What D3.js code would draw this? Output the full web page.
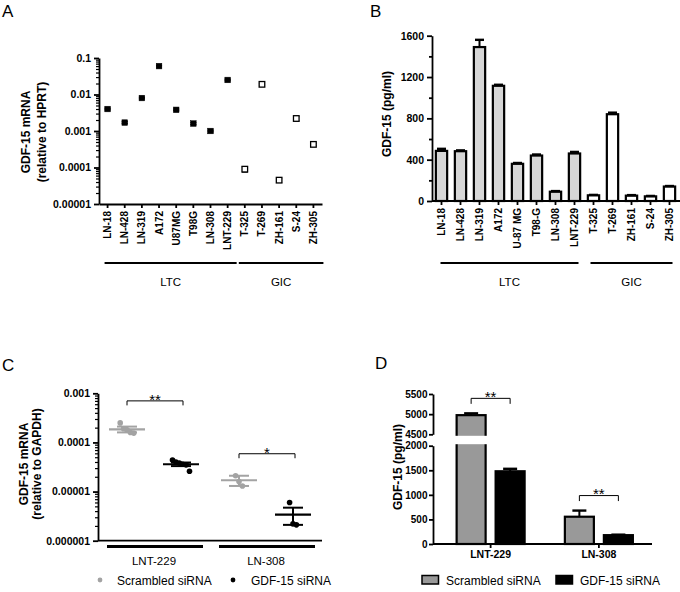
<!DOCTYPE html>
<html><head><meta charset="utf-8">
<script src="https://cdn.jsdelivr.net/npm/d3@7"></script>
<style>
body{margin:0;background:#fff;}
svg{font-family:"Liberation Sans",Arial,sans-serif;}
.axis path,.axis line{stroke:#000;stroke-width:1.8;}
.axis text{font-size:10.5px;font-weight:bold;fill:#000;}
</style></head><body>
<svg id="c" width="680" height="592"></svg>
<script>
// ---------- Panel A data ----------
const aCategories = ["LN-18","LN-428","LN-319","A172","U87MG","T98G","LN-308","LNT-229","T-325","T-269","ZH-161","S-24","ZH-305"];
const aGroupOf = ["LTC","LTC","LTC","LTC","LTC","LTC","LTC","LTC","GIC","GIC","GIC","GIC","GIC"];
const aValues = [0.0040,0.0017,0.0080,0.060,0.0038,0.0016,0.0010,0.025,0.00009,0.019,0.000045,0.0022,0.00043];
const aErrors = [0.0002,0.0001,0.0004,0.003,0.0002,0.0001,0.00005,0.0012,0.000015,0.001,0.000006,0.0003,0.00003];
const aTickValues = [0.1,0.01,0.001,0.0001,0.00001];
const aTickLabels = ["0.1","0.01","0.001","0.0001","0.00001"];

// ---------- Panel B data ----------
const bCategories = ["LN-18","LN-428","LN-319","A172","U-87 MG","T98-G","LN-308","LNT-229","T-325","T-269","ZH-161","S-24","ZH-305"];
const bGroupOf = ["LTC","LTC","LTC","LTC","LTC","LTC","LTC","LTC","GIC","GIC","GIC","GIC","GIC"];
const bValues = [485,482,1490,1115,360,440,90,460,55,840,52,45,140];
const bErrors = [20,8,70,10,8,10,6,15,4,15,5,4,5];
const bTickValues = [0,400,800,1200,1600];

// ---------- Panel C data ----------
const cCellLines = ["LNT-229","LN-308"];
const cSeries = ["Scrambled siRNA","GDF-15 siRNA"];
const cScrambledPoints = [[0.00025,0.00019,0.00018,0.00016,0.000155],[0.000021,0.000016,0.000013]];
const cGdfPoints = [[0.000044,0.00004,0.000038,0.000036,0.000035,0.000026],[0.000006,0.0000022,0.0000021]];
const cScrambledMean = [0.000185,0.000017];
const cScrambledSem = [0.000025,0.000004];
const cGdfMean = [0.000036,0.0000034];
const cGdfSem = [0.000003,0.0000013];
const cSignificance = ["**","*"];
const cTickValues = [0.001,0.0001,0.00001,0.000001];
const cTickLabels = ["0.001","0.0001","0.00001","0.000001"];

// ---------- Panel D data ----------
const dCellLines = ["LNT-229","LN-308"];
const dScrambled = [4975,555];
const dScrambledErr = [45,125];
const dGdf = [1480,180];
const dGdfErr = [50,10];
const dSignificance = ["**","**"];
const dLowTicks = [0,500,1000,1500,2000];
const dHighTicks = [4500,5000,5500];

const svg = d3.select("#c");
const GRAY_C = "#a3a3a3", GRAY_D = "#999999", GRAY_B = "#d6d6d6";
const fmtInt = d3.format("d");

function panelLetter(t,x,y){svg.append("text").attr("x",x).attr("y",y).attr("font-size",17).text(t);}
function vTitle(lines,xs,cy){
  lines.forEach((t,i)=>{
    svg.append("text").attr("transform",`translate(${xs[i]},${cy}) rotate(-90)`)
      .attr("text-anchor","middle").attr("font-size",12).attr("font-weight","bold").text(t);
  });
}
function rotateLabels(g){
  g.selectAll(".tick text").attr("transform","rotate(-90)").attr("text-anchor","end")
    .attr("x",-7).attr("y",0).attr("dy","0.35em").style("font-size","10px");
}
function groupLines(x, groups, cats, y, specs){
  specs.forEach(s=>{
    const idx = cats.map((c,i)=>i).filter(i=>groups[i]===s.name);
    const x0 = x(cats[idx[0]]) + s.o0, x1 = x(cats[idx[idx.length-1]]) + s.o1;
    svg.append("line").attr("x1",x0).attr("x2",x1).attr("y1",y).attr("y2",y).attr("stroke","#000").attr("stroke-width",1.8);
    svg.append("text").attr("x",(x0+x1)/2).attr("y",y+23).attr("text-anchor","middle").attr("font-size",11.5).text(s.name);
  });
}

// ================= Panel A =================
panelLetter("A",2,17);
const xA = d3.scaleBand().domain(aCategories).range([99,322]);
const yA = d3.scaleLog().domain([0.00001,0.1]).range([204,58]);
{
  svg.append("g").attr("class","axis").attr("transform","translate(99,0)")
    .call(d3.axisLeft(yA).tickValues(aTickValues).tickFormat((d,i)=>aTickLabels[i]).tickSize(5).tickSizeOuter(0));
  const minor = yA.ticks().filter(v=>!aTickValues.some(t=>Math.abs(t-v)/t<1e-6));
  const gm = svg.append("g").attr("class","axis").attr("transform","translate(99,0)")
    .call(d3.axisLeft(yA).tickValues(minor).tickFormat("").tickSize(3));
  gm.select(".domain").remove();
  gm.selectAll("line").style("stroke-width",1.2);
  const gx = svg.append("g").attr("class","axis").attr("transform","translate(0,204)")
    .call(d3.axisBottom(xA).tickSize(4).tickSizeOuter(0));
  rotateLabels(gx);
  const cx = c=>xA(c)+xA.bandwidth()/2;
  const pts = svg.append("g");
  aCategories.forEach((c,i)=>{
    const x = cx(c), yt = yA(aValues[i]+aErrors[i]), yb = yA(Math.max(aValues[i]-aErrors[i],1e-7));
    pts.append("line").attr("x1",x).attr("x2",x).attr("y1",yt).attr("y2",yb).attr("stroke","#000").attr("stroke-width",1.2);
    [yt,yb].forEach(yy=>pts.append("line").attr("x1",x-3).attr("x2",x+3).attr("y1",yy).attr("y2",yy).attr("stroke","#000").attr("stroke-width",1.2));
    const open = aGroupOf[i]==="GIC";
    pts.append("rect").attr("x",x-2.8).attr("y",yA(aValues[i])-2.8).attr("width",5.6).attr("height",5.6)
      .attr("fill",open?"#fff":"#000").attr("stroke","#000").attr("stroke-width",open?1.3:0.5);
  });
  groupLines(cx,aGroupOf,aCategories,263,[{name:"LTC",o0:-3,o1:9},{name:"GIC",o0:-6,o1:10}]);
  vTitle(["GDF-15 mRNA","(relative to HPRT)"],[30,46],132);
}

// ================= Panel B =================
panelLetter("B",370,17);
const xB = d3.scaleBand().domain(bCategories).range([432,679]).paddingInner(0.3).paddingOuter(0.15);
const yB = d3.scaleLinear().domain([0,1600]).range([201,35.7]);
{
  const bars = svg.append("g");
  bCategories.forEach((c,i)=>{
    const x = xB(c), w = xB.bandwidth(), cxm = x+w/2;
    bars.append("rect").attr("x",x+1).attr("y",yB(bValues[i])).attr("width",w-2).attr("height",yB(0)-yB(bValues[i]))
      .attr("fill",bGroupOf[i]==="LTC"?GRAY_B:"#fff").attr("stroke","#000").attr("stroke-width",2.2);
    const ye = yB(bValues[i]+bErrors[i]);
    bars.append("line").attr("x1",cxm).attr("x2",cxm).attr("y1",yB(bValues[i])).attr("y2",ye).attr("stroke","#000").attr("stroke-width",2);
    bars.append("line").attr("x1",cxm-4.5).attr("x2",cxm+4.5).attr("y1",ye).attr("y2",ye).attr("stroke","#000").attr("stroke-width",2.4);
  });
  svg.append("g").attr("class","axis").attr("transform","translate(432,0)")
    .call(d3.axisLeft(yB).tickValues(bTickValues).tickFormat(fmtInt).tickSize(5).tickSizeOuter(0));
  const minor = d3.range(200,1600,400);
  const gm = svg.append("g").attr("class","axis").attr("transform","translate(432,0)")
    .call(d3.axisLeft(yB).tickValues(minor).tickFormat("").tickSize(3));
  gm.select(".domain").remove();
  const gx = svg.append("g").attr("class","axis").attr("transform","translate(0,201)")
    .call(d3.axisBottom(xB).tickSize(4).tickSizeOuter(0));
  gx.select(".domain").attr("d","M432,0H680");
  rotateLabels(gx);
  const cx = c=>xB(c)+xB.bandwidth()/2;
  groupLines(cx,bGroupOf,bCategories,263,[{name:"LTC",o0:-1,o1:4},{name:"GIC",o0:-3,o1:3}]);
  vTitle(["GDF-15 (pg/ml)"],[391],114);
}

// ================= Panel C =================
panelLetter("C",2,371);
const xC = d3.scaleBand().domain(cCellLines).range([98,322]);
const yC = d3.scaleLog().domain([0.000001,0.001]).range([540.7,393.3]);
{
  svg.append("g").attr("class","axis").attr("transform","translate(98,0)")
    .call(d3.axisLeft(yC).tickValues(cTickValues).tickFormat((d,i)=>cTickLabels[i]).tickSize(5).tickSizeOuter(0));
  const minor = yC.ticks().filter(v=>!cTickValues.some(t=>Math.abs(t-v)/t<1e-6));
  const gm = svg.append("g").attr("class","axis").attr("transform","translate(98,0)")
    .call(d3.axisLeft(yC).tickValues(minor).tickFormat("").tickSize(3));
  gm.select(".domain").remove();
  gm.selectAll("line").style("stroke-width",1.2);
  svg.append("line").attr("x1",98).attr("x2",322).attr("y1",yC(0.000001)).attr("y2",yC(0.000001)).attr("stroke","#000").attr("stroke-width",1.8);
  const center = c=>xC(c)+xC.bandwidth()/2;
  const off = 27;
  const g = svg.append("g");
  function drawGroup(x, pts, mean, sem, col){
    pts.forEach((v,i)=>{
      g.append("circle").attr("cx",x+(i-(pts.length-1)/2)*3.4).attr("cy",yC(v)).attr("r",2.8).attr("fill",col);
    });
    g.append("line").attr("x1",x-18).attr("x2",x+18).attr("y1",yC(mean)).attr("y2",yC(mean)).attr("stroke",col).attr("stroke-width",2.2);
    const yt=yC(mean+sem), yb=yC(mean-sem);
    g.append("line").attr("x1",x).attr("x2",x).attr("y1",yt).attr("y2",yb).attr("stroke",col).attr("stroke-width",2);
    [yt,yb].forEach(yy=>g.append("line").attr("x1",x-10).attr("x2",x+10).attr("y1",yy).attr("y2",yy).attr("stroke",col).attr("stroke-width",2));
  }
  cCellLines.forEach((c,i)=>{
    const xs = center(c)-off, xg = center(c)+off;
    drawGroup(xs,cScrambledPoints[i],cScrambledMean[i],cScrambledSem[i],GRAY_C);
    drawGroup(xg,cGdfPoints[i],cGdfMean[i],cGdfSem[i],"#000");
    const top = yC(d3.max(cScrambledPoints[i].concat(cGdfPoints[i]))) - 22;
    g.append("path").attr("d",`M${xs},${top+4.5}V${top}H${xg+2}V${top+4.5}`).attr("fill","none").attr("stroke","#000").attr("stroke-width",1);
    g.append("text").attr("x",(xs+xg)/2+1).attr("y",top+4.5).attr("text-anchor","middle").attr("font-size",15).text(cSignificance[i]);
    svg.append("line").attr("x1",xC(c)+9).attr("x2",xC(c)+xC.bandwidth()-7).attr("y1",546.5).attr("y2",546.5).attr("stroke","#000").attr("stroke-width",3);
    svg.append("text").attr("x",center(c)).attr("y",565).attr("text-anchor","middle").attr("font-size",11.5).text(c);
  });
  const leg = svg.append("g");
  [[100,117,GRAY_C],[233,251,"#000"]].forEach((p,i)=>{
    leg.append("circle").attr("cx",p[0]).attr("cy",580).attr("r",2.4).attr("fill",p[2]);
    leg.append("text").attr("x",p[1]).attr("y",584.5).attr("font-size",12).text(cSeries[i]);
  });
  vTitle(["GDF-15 mRNA","(relative to GAPDH)"],[27.5,41],464);
}

// ================= Panel D =================
panelLetter("D",375,369);
const xD = d3.scaleBand().domain(dCellLines).range([436.5,653]);
const yDLow = d3.scaleLinear().domain([0,2000]).range([544,445.7]);
const yDHigh = d3.scaleLinear().domain([4500,5500]).range([434.3,394]);
const yD = v => v>2000 ? yDHigh(v) : yDLow(v);
{
  const g = svg.append("g");
  const bw = 29, off = 19.5;
  dCellLines.forEach((c,i)=>{
    const cx = xD(c)+xD.bandwidth()/2;
    [[cx-off,dScrambled[i],dScrambledErr[i],GRAY_D],[cx+off,dGdf[i],dGdfErr[i],"#000"]].forEach(b=>{
      const [x,v,e,col]=b;
      g.append("rect").attr("x",x-bw/2).attr("y",yD(v)).attr("width",bw).attr("height",yDLow(0)-yD(v))
        .attr("fill",col).attr("stroke","#000").attr("stroke-width",2.2);
      if(v>2000){
        g.append("rect").attr("x",x-bw/2-2).attr("y",yDHigh(4500)+1.5).attr("width",bw+4)
          .attr("height",yDLow(2000)-1.5-(yDHigh(4500)+1.5)).attr("fill","#fff");
      }
      const ye = yD(v+e);
      g.append("line").attr("x1",x).attr("x2",x).attr("y1",yD(v)).attr("y2",ye).attr("stroke","#000").attr("stroke-width",2);
      g.append("line").attr("x1",x-7).attr("x2",x+7).attr("y1",ye).attr("y2",ye).attr("stroke","#000").attr("stroke-width",2.4);
    });
    const top = yD(dScrambled[i]+dScrambledErr[i]) - 15;
    g.append("path").attr("d",`M${cx-off},${top+5.5}V${top}H${cx+off}V${top+5.5}`).attr("fill","none").attr("stroke","#000").attr("stroke-width",1);
    g.append("text").attr("x",cx).attr("y",top+3.5).attr("text-anchor","middle").attr("font-size",15).text(dSignificance[i]);
  });
  [[yDLow,dLowTicks],[yDHigh,dHighTicks]].forEach(([sc,tv])=>{
    const ga = svg.append("g").attr("class","axis").attr("transform","translate(433,0)")
      .call(d3.axisLeft(sc).tickValues(tv).tickFormat(fmtInt).tickSize(4).tickPadding(1.5).tickSizeOuter(0));
    ga.selectAll(".tick text").style("font-size","10px");
  });
  const gx = svg.append("g").attr("class","axis").attr("transform",`translate(0,${yDLow(0)})`)
    .call(d3.axisBottom(xD).tickSize(4).tickSizeOuter(0));
  gx.select(".domain").attr("d","M433,0H652");
  gx.selectAll(".tick text").style("font-size","10.5px");
  const leg = svg.append("g");
  [[422,446,GRAY_D],[556,580,"#000"]].forEach((p,i)=>{
    leg.append("rect").attr("x",p[0]).attr("y",575.5).attr("width",16.5).attr("height",8.5).attr("fill",p[2]).attr("stroke","#000").attr("stroke-width",1.5);
    leg.append("text").attr("x",p[1]).attr("y",584.5).attr("font-size",12).text(cSeries[i]);
  });
  vTitle(["GDF-15 (pg/ml)"],[402],467);
}
</script>
</body></html>
